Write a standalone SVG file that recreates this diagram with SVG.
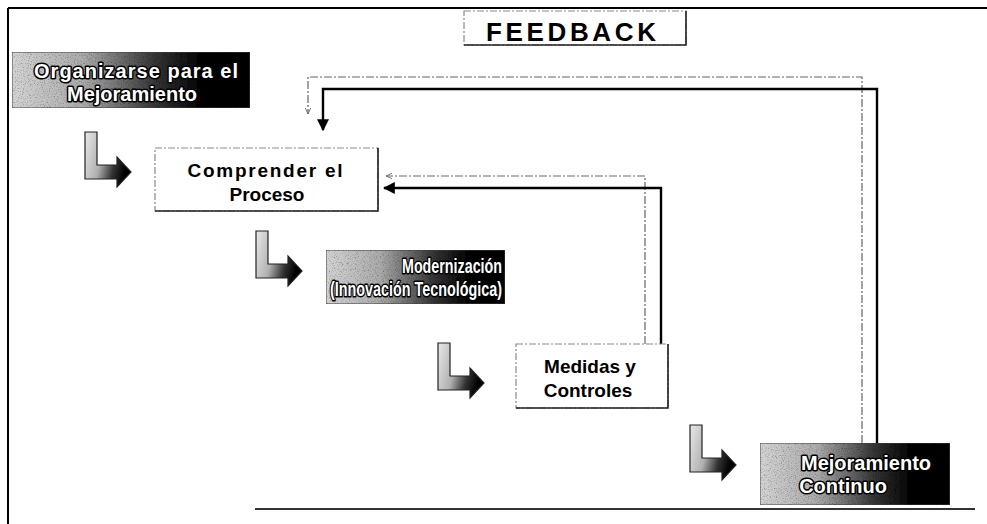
<svg xmlns="http://www.w3.org/2000/svg" width="987" height="524" viewBox="0 0 987 524">
  <defs>
    <style>
      .frame { stroke: #000; stroke-width: 2; fill: none; }
      .litebox { fill: #fff; stroke: #8a8a8a; stroke-width: 1.2; stroke-dasharray: 7 2 2 2; }
      .edge { stroke: #222; stroke-width: 1.6; fill: none; }
      .darkbox { fill: url(#darkfill); stroke: #444; stroke-width: 1; }
      .lbl { font-family: "Liberation Sans", Arial, sans-serif; font-weight: bold; text-anchor: middle; }
      .dark { font-size: 20px; fill: #fff; stroke: #000; stroke-width: 3; paint-order: stroke; stroke-linejoin: round; }
      .plain { font-size: 19px; fill: #000; }
      .solid { stroke: #000; stroke-width: 2.4; fill: none; }
      .thin { stroke: #666; stroke-width: 1.2; fill: none; stroke-dasharray: 8 2 2 2; }
      .lshape { fill: url(#lfill); stroke: #222; stroke-width: 1.2; }
    </style>
    <linearGradient id="darkfill" x1="0" y1="0" x2="1" y2="0">
      <stop offset="0" stop-color="#d4d4d4"/>
      <stop offset="0.3" stop-color="#ababab"/>
      <stop offset="0.6" stop-color="#353535"/>
      <stop offset="0.8" stop-color="#000"/>
      <stop offset="1" stop-color="#000"/>
    </linearGradient>
    <linearGradient id="lfill" x1="0" y1="0" x2="1" y2="0.3">
      <stop offset="0" stop-color="#e8e8e8"/>
      <stop offset="0.45" stop-color="#b0b0b0"/>
      <stop offset="0.75" stop-color="#333"/>
      <stop offset="1" stop-color="#000"/>
    </linearGradient>
    <filter id="grain" x="0" y="0" width="100%" height="100%">
      <feTurbulence type="fractalNoise" baseFrequency="0.85" numOctaves="2" seed="7" result="noise"/>
      <feColorMatrix in="noise" type="matrix" values="0 0 0 0 0  0 0 0 0 0  0 0 0 0 0  3 0 0 0 -1.5" result="dots"/>
      <feComposite in="dots" in2="SourceGraphic" operator="in" result="speck"/>
      <feComponentTransfer in="speck" result="soft">
        <feFuncA type="linear" slope="0.55"/>
      </feComponentTransfer>
      <feMerge>
        <feMergeNode in="SourceGraphic"/>
        <feMergeNode in="soft"/>
      </feMerge>
    </filter>
    <marker id="headSolid" viewBox="0 0 10 10" refX="9" refY="5" markerWidth="5" markerHeight="5" orient="auto" markerUnits="strokeWidth">
      <path d="M0,0 L10,5 L0,10 Z" fill="#000"/>
    </marker>
    <marker id="headOpen" viewBox="0 0 10 10" refX="9" refY="5" markerWidth="6" markerHeight="6" orient="auto" markerUnits="strokeWidth">
      <path d="M0,1 L9,5 L0,9" fill="none" stroke="#666" stroke-width="1.2"/>
    </marker>
    <!-- L-shaped step arrow -->
    <path id="lstep" d="M0,0 H12 V33 H32 V25 L46,40 L32,55 V47 H0 Z"/>
  </defs>

  <rect width="987" height="524" fill="#fff"/>

  <!-- page frame -->
  <g id="frame">
    <line class="frame" x1="8" y1="8" x2="987" y2="8"/>
    <line class="frame" x1="8" y1="8" x2="8" y2="524"/>
    <line x1="255" y1="509" x2="975" y2="509" stroke="#333" stroke-width="2"/>
  </g>

  <!-- feedback paths -->
  <g id="connectors">
    <polyline class="thin" points="862,443 862,77 308,77 308,114" marker-end="url(#headOpen)"/>
    <polyline class="solid" points="877,443 877,89 323,89 323,130" marker-end="url(#headSolid)"/>
    <polyline class="thin" points="645,344 645,176 386,176" marker-end="url(#headOpen)"/>
    <polyline class="solid" points="661,344 661,188 384,188" marker-end="url(#headSolid)"/>
  </g>

  <g id="feedback">
    <rect class="litebox" x="464" y="11" width="222" height="34"/>
    <path class="edge" d="M464,45 H686 V11"/>
    <text class="lbl" x="571" y="41" font-size="26" textLength="170" lengthAdjust="spacing">FEEDBACK</text>
  </g>

  <g id="organizarse">
    <rect class="darkbox" x="12" y="52" width="238" height="56" filter="url(#grain)"/>
    <text class="lbl dark" x="136" y="78" textLength="204" lengthAdjust="spacing">Organizarse para el</text>
    <text class="lbl dark" x="132" y="101">Mejoramiento</text>
  </g>

  <g id="step1"><use href="#lstep" class="lshape" x="85" y="132"/></g>

  <g id="comprender">
    <rect class="litebox" x="155" y="148" width="223" height="63"/>
    <path class="edge" d="M155,211 H378 V148"/>
    <text class="lbl plain" x="265" y="177" font-size="20" textLength="155" lengthAdjust="spacing">Comprender el</text>
    <text class="lbl plain" x="267" y="201" font-size="20">Proceso</text>
  </g>

  <g id="step2"><use href="#lstep" class="lshape" x="256" y="231"/></g>

  <g id="modernizacion">
    <rect class="darkbox" x="326" y="250" width="179" height="54" filter="url(#grain)"/>
    <text class="lbl dark" x="452" y="273" font-size="17" textLength="100" lengthAdjust="spacingAndGlyphs">Modernización</text>
    <text class="lbl dark" x="416" y="296" font-size="17" textLength="172" lengthAdjust="spacingAndGlyphs">(Innovación Tecnológica)</text>
  </g>

  <g id="step3"><use href="#lstep" class="lshape" x="438" y="343"/></g>

  <g id="medidas">
    <rect class="litebox" x="516" y="344" width="152" height="64"/>
    <path class="edge" d="M516,408 H668 V344"/>
    <text class="lbl plain" x="590" y="373">Medidas y</text>
    <text class="lbl plain" x="588" y="397">Controles</text>
  </g>

  <g id="step4"><use href="#lstep" class="lshape" x="690" y="425"/></g>

  <g id="mejoramiento">
    <rect class="darkbox" x="760" y="443" width="190" height="62" filter="url(#grain)"/>
    <text class="lbl dark" x="866" y="470" font-size="19">Mejoramiento</text>
    <text class="lbl dark" x="843" y="493" font-size="19">Continuo</text>
  </g>
</svg>
